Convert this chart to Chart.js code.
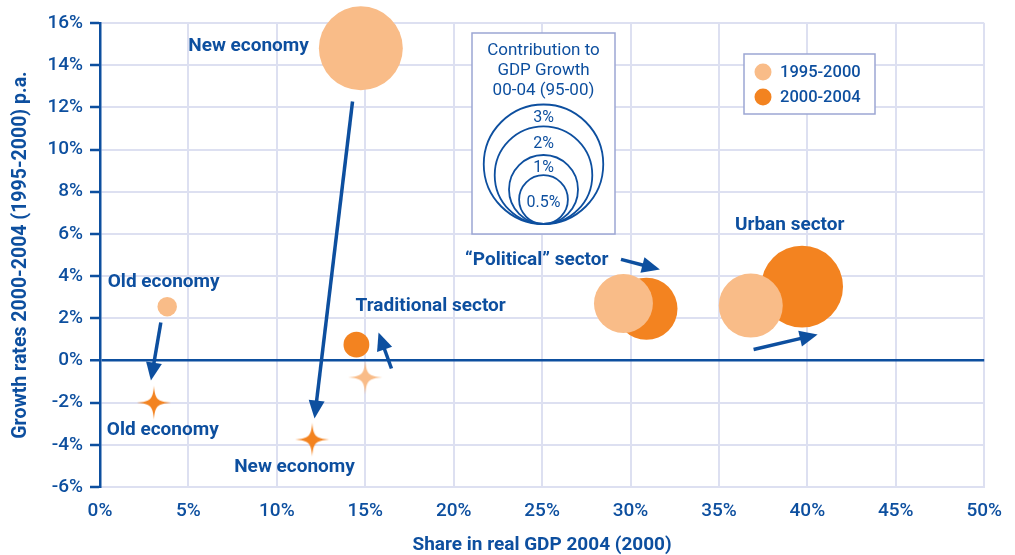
<!DOCTYPE html>
<html>
<head>
<meta charset="utf-8">
<script src="https://cdn.jsdelivr.net/npm/chart.js@4.4.0/dist/chart.umd.min.js"></script>
<style>
  html, body { margin: 0; padding: 0; background: #fff; }
</style>
</head>
<body>
<canvas id="myChart" width="1015" height="555"></canvas>
<script>
// series + sectors
const seriesNames = ['1995-2000', '2000-2004'];
const sectors = ['Old economy', 'New economy', 'Traditional sector', '“Political” sector', 'Urban sector'];

// share in real GDP (%), growth p.a. (%), contribution to GDP growth (pp)
const share95 = [3.8, 14.75, 15.0, 29.6, 36.8];
const growth95 = [2.55, 14.8, -0.8, 2.7, 2.6];
const contrib95 = [0.08, 1.48, -0.12, 0.73, 0.86];

const share00 = [3.05, 12.0, 14.5, 30.9, 39.7];
const growth00 = [-2.0, -3.75, 0.75, 2.45, 3.5];
const contrib00 = [-0.06, -0.45, 0.14, 0.81, 1.41];

const sizeLegendValues = [3, 2, 1, 0.5];
const sizeLegendTitle = ['Contribution to', 'GDP Growth', '00-04 (95-00)'];
const xTitle = 'Share in real GDP 2004 (2000)';
const yTitle = 'Growth rates 2000-2004 (1995-2000) p.a.';

const BLUE = '#0d4f9f';
const GRID = '#dde0f1';
const LIGHT = '#f9bc88';
const DARK = '#f38320';
const FONT = 'Roboto';

// bubble area proportional to contribution
const bubbleR = c => 34.5 * Math.sqrt(c);
const STAR = 17;

function makeStar(color) {
    const s = 36, c = s / 2, R = 17;
    const cv = document.createElement('canvas');
    cv.width = s; cv.height = s;
    const g = cv.getContext('2d');
    g.fillStyle = color;
    g.beginPath();
    g.moveTo(c, c - R);
    g.bezierCurveTo(c + 1, c - 3.5, c + 3.5, c - 1, c + R, c);
    g.bezierCurveTo(c + 3.5, c + 1, c + 1, c + 3.5, c, c + R);
    g.bezierCurveTo(c - 1, c + 3.5, c - 3.5, c + 1, c - R, c);
    g.bezierCurveTo(c - 3.5, c - 1, c - 1, c - 3.5, c, c - R);
    g.fill();
    return cv;
}

function points(shares, growths, contribs, positive) {
    return shares.map((x, i) => ({ x: x, y: growths[i], c: contribs[i] }))
        .filter(p => positive ? p.c > 0 : p.c <= 0)
        .map(p => ({ x: p.x, y: p.y, r: positive ? bubbleR(p.c) : STAR }));
}

// annotation texts (data coords of label centre)
const labels = [
    { text: 'New economy', x: 8.4, y: 14.9 },
    { text: 'Old economy', x: 3.6, y: 3.7 },
    { text: 'Old economy', x: 3.55, y: -3.3 },
    { text: 'New economy', x: 11.0, y: -5.05 },
    { text: 'Traditional sector', x: 18.7, y: 2.56 },
    { text: '“Political” sector', x: 24.7, y: 4.74 },
    { text: 'Urban sector', x: 39.0, y: 6.4 }
];
const arrows = [
    { from: [3.44, 1.8], to: [2.88, -0.95] },
    { from: [14.28, 12.28], to: [12.13, -2.75] },
    { from: [16.48, -0.38], to: [15.75, 1.33] },
    { from: [29.46, 4.79], to: [31.66, 4.31] },
    { from: [36.96, 0.52], to: [40.58, 1.23] }
];

const decorations = {
    id: 'decorations',
    afterDatasetsDraw(chart) {
        const ctx = chart.ctx;
        const xs = chart.scales.x, ys = chart.scales.y;
        ctx.save();

        // arrows
        ctx.strokeStyle = BLUE;
        ctx.fillStyle = BLUE;
        ctx.lineWidth = 3.5;
        arrows.forEach(a => {
            const x1 = xs.getPixelForValue(a.from[0]), y1 = ys.getPixelForValue(a.from[1]);
            const x2 = xs.getPixelForValue(a.to[0]), y2 = ys.getPixelForValue(a.to[1]);
            const ang = Math.atan2(y2 - y1, x2 - x1);
            const hl = 18, hw = 8;
            const bx = x2 - hl * Math.cos(ang), by = y2 - hl * Math.sin(ang);
            ctx.beginPath();
            ctx.moveTo(x1, y1);
            ctx.lineTo(bx + 2 * Math.cos(ang), by + 2 * Math.sin(ang));
            ctx.stroke();
            ctx.beginPath();
            ctx.moveTo(x2, y2);
            ctx.lineTo(bx + hw * Math.sin(ang), by - hw * Math.cos(ang));
            ctx.lineTo(bx - hw * Math.sin(ang), by + hw * Math.cos(ang));
            ctx.closePath();
            ctx.fill();
        });

        // labels
        ctx.font = 'bold 19px ' + FONT;
        ctx.textAlign = 'center';
        ctx.textBaseline = 'middle';
        labels.forEach(l => {
            ctx.fillText(l.text, xs.getPixelForValue(l.x), ys.getPixelForValue(l.y));
        });

        // size legend box
        const bx = 472, by = 33, bw = 143, bh = 201;
        ctx.fillStyle = '#fff';
        ctx.fillRect(bx, by, bw, bh);
        ctx.strokeStyle = '#9ca6d3';
        ctx.lineWidth = 1.5;
        ctx.strokeRect(bx, by, bw, bh);
        ctx.fillStyle = BLUE;
        ctx.font = '17px ' + FONT;
        sizeLegendTitle.forEach((t, i) => ctx.fillText(t, bx + bw / 2, by + 18 + i * 20));
        const cx = bx + bw / 2, bottom = by + 191;
        ctx.strokeStyle = BLUE;
        ctx.lineWidth = 1.8;
        const tops = sizeLegendValues.map(v => bottom - 2 * bubbleR(v));
        sizeLegendValues.forEach(v => {
            const r = bubbleR(v);
            ctx.beginPath();
            ctx.arc(cx, bottom - r, r, 0, Math.PI * 2);
            ctx.stroke();
        });
        ctx.font = '16px ' + FONT;
        sizeLegendValues.forEach((v, i) => {
            let ly;
            if (i < sizeLegendValues.length - 1) ly = (tops[i] + tops[i + 1]) / 2 + 3;
            else ly = bottom - bubbleR(v) + 3;
            ctx.fillText(v + '%', cx, ly);
        });

        // series legend box
        const lx = 744, ly = 54, lw = 131, lh = 60;
        ctx.fillStyle = '#fff';
        ctx.fillRect(lx, ly, lw, lh);
        ctx.strokeStyle = '#9ca6d3';
        ctx.lineWidth = 1.5;
        ctx.strokeRect(lx, ly, lw, lh);
        ctx.font = '500 16.5px ' + FONT;
        ctx.textAlign = 'left';
        chart.data.datasets.slice(0, 2).forEach((d, i) => {
            const yy = ly + 18 + i * 25;
            ctx.fillStyle = d.backgroundColor;
            ctx.beginPath();
            ctx.arc(lx + 19, yy, 8.5, 0, Math.PI * 2);
            ctx.fill();
            ctx.fillStyle = BLUE;
            ctx.fillText(d.label, lx + 36, yy + 1);
        });
        ctx.restore();
    }
};

const config = {
    type: 'bubble',
    data: {
        datasets: [
            { label: seriesNames[0], data: points(share95, growth95, contrib95, true), backgroundColor: LIGHT, borderWidth: 0, clip: false },
            { label: seriesNames[1], data: points(share00, growth00, contrib00, true), backgroundColor: DARK, borderWidth: 0, clip: false },
            { label: seriesNames[0], data: points(share95, growth95, contrib95, false), pointStyle: makeStar(LIGHT), backgroundColor: LIGHT, borderWidth: 0, clip: false },
            { label: seriesNames[1], data: points(share00, growth00, contrib00, false), pointStyle: makeStar(DARK), backgroundColor: DARK, borderWidth: 0, clip: false }
        ]
    },
    options: {
        responsive: false,
        animation: false,
        events: [],
        layout: { autoPadding: false, padding: { left: 0, top: 23, right: 29, bottom: 0 } },
        plugins: { legend: { display: false }, tooltip: { enabled: false } },
        scales: {
            x: {
                type: 'linear', min: 0, max: 50,
                ticks: { stepSize: 5, callback: v => v + '%', color: BLUE, font: { family: FONT, size: 19, weight: '500' }, padding: 13 },
                grid: { color: c => c.tick && c.tick.value === 0 ? 'rgba(0,0,0,0)' : GRID, lineWidth: 2, drawTicks: false },
                border: { color: GRID, width: 2 },
                title: { display: true, text: xTitle, color: BLUE, font: { family: FONT, size: 19, weight: 'bold' }, padding: { top: 0, bottom: -2 } },
                afterFit: s => { s.height = 68; }
            },
            y: {
                type: 'linear', min: -6, max: 16,
                ticks: { stepSize: 2, callback: v => v + '%', color: BLUE, font: { family: FONT, size: 19, weight: '500' }, padding: 7 },
                grid: {
                    color: c => c.tick && c.tick.value === 0 ? BLUE : GRID,
                    lineWidth: c => c.tick && c.tick.value === 0 ? 2.5 : 2,
                    tickColor: BLUE, tickWidth: 2.5, tickLength: 10
                },
                border: { color: BLUE, width: 2.5 },
                title: { display: true, text: yTitle, color: BLUE, font: { family: FONT, size: 19.5, weight: 'bold' }, padding: { top: 9, bottom: 0 } },
                afterFit: s => { s.width = 100; }
            }
        }
    },
    plugins: [decorations]
};

new Chart(document.getElementById('myChart').getContext('2d'), config);
</script>
</body>
</html>
